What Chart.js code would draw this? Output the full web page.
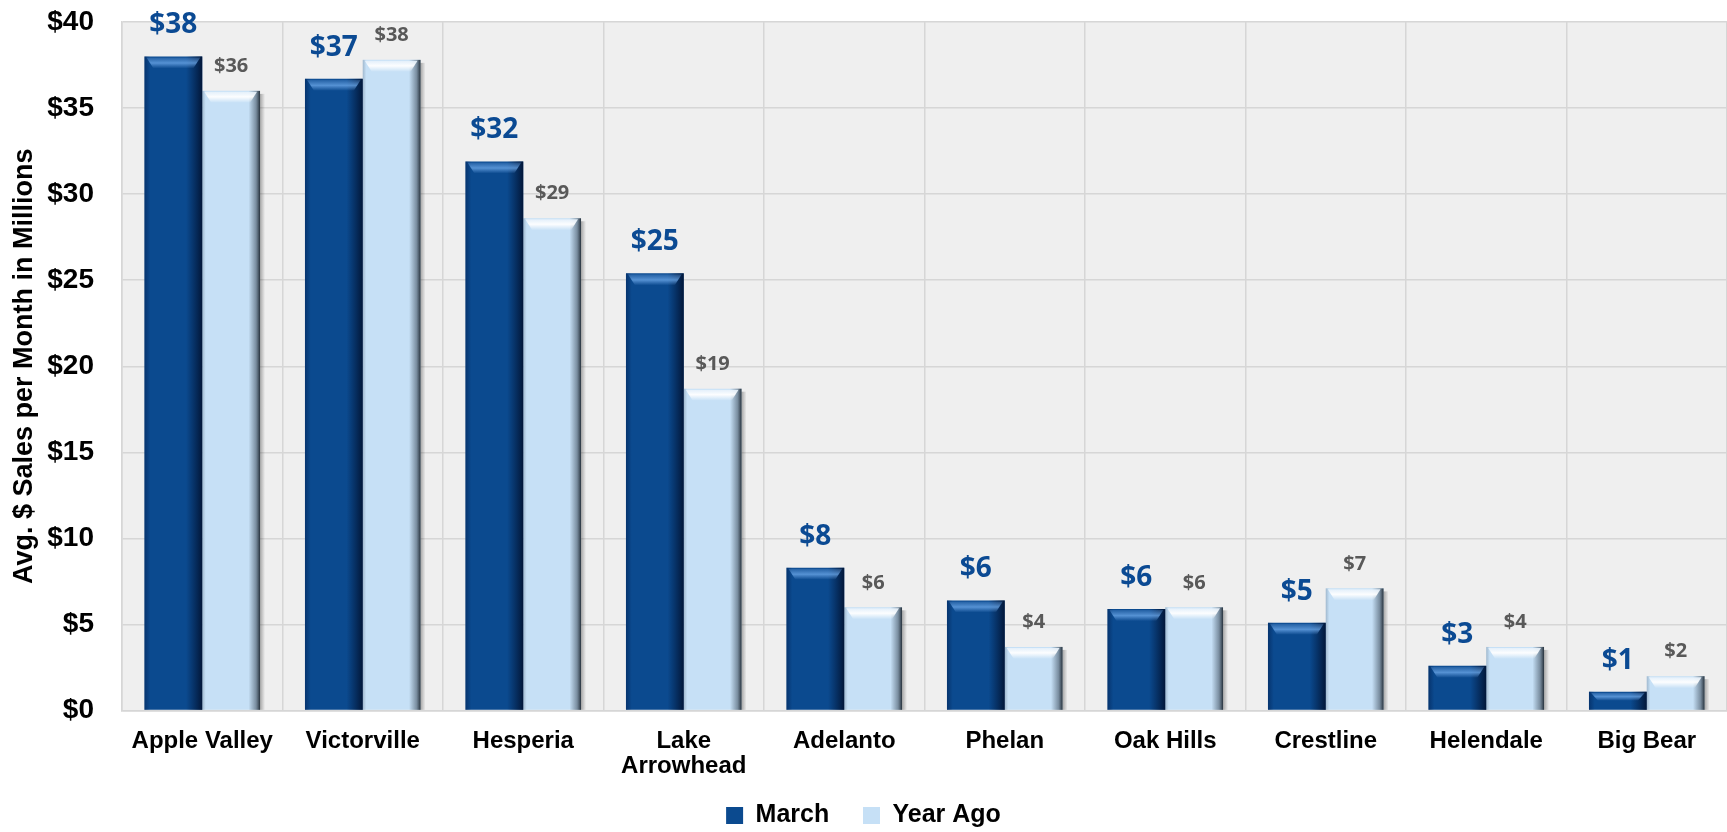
<!DOCTYPE html>
<html lang="en">
<head>
<meta charset="UTF-8" />
<title>Avg. $ Sales per Month</title>
<script src="https://cdn.jsdelivr.net/npm/chart.js"></script>
<style>
  html, body { margin: 0; padding: 0; background: #fff; overflow: hidden; }
</style>
</head>
<body>
<canvas id="myChart" width="1727" height="832"></canvas>
<script>
const cities = ["Apple Valley", "Victorville", "Hesperia", ["Lake", "Arrowhead"], "Adelanto", "Phelan", "Oak Hills", "Crestline", "Helendale", "Big Bear"];
const march = [38.0, 36.7, 31.9, 25.4, 8.3, 6.4, 5.9, 5.1, 2.6, 1.1];
const yearAgo = [36.0, 37.8, 28.6, 18.7, 6.0, 3.7, 6.0, 7.1, 3.7, 2.0];
const yTicks = [0, 5, 10, 15, 20, 25, 30, 35, 40];

const gridColor = "#D6D6D6";

// grey plot background
const plotBg = {
  id: "plotBg",
  beforeDraw(chart) {
    const { ctx, chartArea: a } = chart;
    ctx.save();
    ctx.fillStyle = "#EFEFEF";
    ctx.fillRect(a.left, a.top, a.right - a.left, a.bottom - a.top);
    ctx.restore();
  }
};

// fake excel bevel on top of the flat bars
const bevel = {
  id: "bevel",
  afterDatasetsDraw(chart) {
    const ctx = chart.ctx;
    ctx.save();
    chart.data.datasets.forEach((ds, i) => {
      chart.getDatasetMeta(i).data.forEach((bar) => {
        const { x, y, base, width } = bar.getProps(["x", "y", "base", "width"], true);
        const l = x - width / 2, r = x + width / 2, h = base - y;
        const bv = Math.min(12, h / 2);
        let g;
        if (i === 0) {
          g = ctx.createLinearGradient(l, 0, r, 0);
          g.addColorStop(0, "rgba(0,25,70,0.45)");
          g.addColorStop(0.1, "rgba(0,25,70,0)");
          g.addColorStop(0.72, "rgba(0,15,45,0)");
          g.addColorStop(1, "rgba(0,10,35,0.8)");
          ctx.fillStyle = g;
          ctx.fillRect(l, y, width, h);
          g = ctx.createLinearGradient(0, y, 0, y + bv);
          g.addColorStop(0, "rgba(110,165,230,0.15)");
          g.addColorStop(0.55, "rgba(110,170,235,0.75)");
          g.addColorStop(1, "rgba(110,165,230,0)");
          ctx.fillStyle = g;
          ctx.beginPath();
          ctx.moveTo(l + 2, y + 1);
          ctx.lineTo(r - 2, y + 1);
          ctx.lineTo(r - 9, y + bv);
          ctx.lineTo(l + 9, y + bv);
          ctx.closePath();
          ctx.fill();
        } else {
          g = ctx.createLinearGradient(l, 0, r, 0);
          g.addColorStop(0, "rgba(90,110,130,0.35)");
          g.addColorStop(0.06, "rgba(90,110,130,0)");
          g.addColorStop(0.8, "rgba(60,75,90,0)");
          g.addColorStop(0.93, "rgba(60,75,90,0.55)");
          g.addColorStop(1, "rgba(30,40,50,0.95)");
          ctx.fillStyle = g;
          ctx.fillRect(l, y, width, h);
          g = ctx.createLinearGradient(0, y, 0, y + bv);
          g.addColorStop(0, "rgba(225,238,250,0.9)");
          g.addColorStop(0.5, "rgba(255,255,255,0.95)");
          g.addColorStop(1, "rgba(255,255,255,0)");
          ctx.fillStyle = g;
          ctx.beginPath();
          ctx.moveTo(l + 2, y + 1);
          ctx.lineTo(r - 3, y + 1);
          ctx.lineTo(r - 10, y + bv);
          ctx.lineTo(l + 9, y + bv);
          ctx.closePath();
          ctx.fill();
          g = ctx.createLinearGradient(r, 0, r + 5, 0);
          g.addColorStop(0, "rgba(0,0,0,0.3)");
          g.addColorStop(1, "rgba(0,0,0,0)");
          ctx.fillStyle = g;
          ctx.fillRect(r, y + 3, 5, h - 3);
        }
      });
    });
    ctx.restore();
  }
};

// value labels above the bars
const valueLabels = {
  id: "valueLabels",
  afterDatasetsDraw(chart) {
    const ctx = chart.ctx;
    ctx.save();
    ctx.textAlign = "center";
    ctx.textBaseline = "middle";
    chart.data.datasets.forEach((ds, i) => {
      ctx.font = i === 0 ? 'bold 28px "Open Sans"' : 'bold 20px "Open Sans"';
      ctx.fillStyle = i === 0 ? "#0B4A93" : "#595959";
      const lift = i === 0 ? 31 : 24.5;
      chart.getDatasetMeta(i).data.forEach((bar, j) => {
        ctx.fillText("$" + Math.round(ds.data[j]), bar.x, bar.y - lift);
      });
    });
    ctx.restore();
  }
};

const axisFont = { family: "Liberation Sans", weight: "bold" };

new Chart(document.getElementById("myChart"), {
  type: "bar",
  data: {
    labels: cities,
    datasets: [
      { label: "March", data: march, backgroundColor: "#0B4A8F", borderWidth: 0, categoryPercentage: 0.72, barPercentage: 1 },
      { label: "Year Ago", data: yearAgo, backgroundColor: "#C6E0F6", borderWidth: 0, categoryPercentage: 0.72, barPercentage: 1 }
    ]
  },
  options: {
    responsive: false,
    animation: false,
    layout: { padding: { top: 22, right: 0, left: 0, bottom: -6 } },
    plugins: {
      legend: {
        position: "bottom",
        labels: {
          font: { ...axisFont, size: 25 },
          color: "#000",
          boxWidth: 17,
          boxHeight: 17,
          padding: 6,
          // small padding keeps the legend low, so widen the gap between the two items by hand
          generateLabels: (chart) =>
            Chart.defaults.plugins.legend.labels.generateLabels(chart).map((it, k) =>
              k === 0 ? { ...it, text: it.text + "    " } : it)
        }
      },
      tooltip: { enabled: false }
    },
    scales: {
      x: {
        grid: { color: gridColor, lineWidth: 1.5, drawTicks: false, offset: true },
        border: { color: gridColor, width: 1.5 },
        ticks: { font: { ...axisFont, size: 24, lineHeight: 1.05 }, color: "#000", padding: 18, maxRotation: 0, autoSkip: false }
      },
      y: {
        min: 0,
        max: 40,
        afterBuildTicks: (s) => { s.ticks = yTicks.map((v) => ({ value: v })); },
        afterFit: (s) => {
          s.width = 122;
          s.paddingTop = 0;
          s.paddingBottom = 0;
        },
        grid: { color: gridColor, lineWidth: 1.5, drawTicks: false },
        border: { color: gridColor, width: 1.5 },
        ticks: { callback: (v) => "$" + v, font: { ...axisFont, size: 28 }, color: "#000", padding: 28 },
        title: {
          display: true,
          text: "Avg. $ Sales per Month in Millions",
          font: { ...axisFont, size: 27 },
          color: "#000",
          padding: { top: 8, bottom: 0 }
        }
      }
    }
  },
  plugins: [plotBg, bevel, valueLabels]
});
</script>
</body>
</html>
